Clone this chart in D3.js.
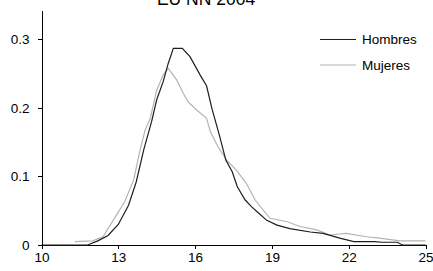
<!DOCTYPE html>
<head>
  <meta charset="utf-8">
  <style>
    body { margin: 0; background: #fff; }
    .axis path, .axis line { stroke: #000; shape-rendering: crispEdges; }
    .axis text { font-family: "Liberation Sans", Arial, sans-serif; font-size: 13.5px; fill: #000; }
  </style>
  <script src="https://cdn.jsdelivr.net/npm/d3@7"></script>
</head>
<body>
<script>
  // values
  var hombresX = [10, 11.8, 12.2, 12.6, 13.0, 13.4, 13.7, 14.0, 14.3, 14.5, 14.75, 14.95, 15.15, 15.5, 15.8,
                  16.2, 16.45, 16.65, 16.95, 17.2, 17.45, 17.65, 17.95, 18.2, 18.5, 18.8, 19.2, 19.7, 20.5,
                  21.0, 21.65, 22.2, 23.0, 23.3, 23.9, 24.1, 25];
  var hombresY = [0, 0, 0.006, 0.014, 0.03, 0.058, 0.092, 0.14, 0.18, 0.212, 0.238, 0.265, 0.287, 0.287, 0.275,
                  0.248, 0.232, 0.2, 0.16, 0.124, 0.107, 0.085, 0.066, 0.056, 0.046, 0.036, 0.029, 0.024, 0.019,
                  0.017, 0.01, 0.005, 0.005, 0.004, 0.004, 0, 0];
  var mujeresX = [11.3, 12.0, 12.4, 12.8, 13.0, 13.25, 13.6, 13.85, 14.05, 14.25, 14.5, 14.75, 14.95, 15.28,
                  15.54, 15.73, 16.06, 16.45, 16.6, 16.9, 17.23, 17.62, 18.0, 18.34, 18.66, 18.93, 19.6, 20.1,
                  20.75, 21.27, 21.9, 22.7, 23.2, 24.0, 25];
  var mujeresY = [0.005, 0.006, 0.012, 0.036, 0.048, 0.063, 0.095, 0.139, 0.168, 0.185, 0.226, 0.248, 0.258, 0.241,
                  0.221, 0.209, 0.197, 0.185, 0.165, 0.143, 0.124, 0.109, 0.09, 0.066, 0.051, 0.039, 0.034, 0.027,
                  0.022, 0.0146, 0.017, 0.012, 0.01, 0.006, 0.006];
  var xTicks = [10, 13, 16, 19, 22, 25];
  var yTicks = [0, 0.1, 0.2, 0.3];
  var seriesNames = ["Hombres", "Mujeres"];
  var colors = ["#1e1e1e", "#b4b4b4"];

  var w = 433, h = 271;
  var svg = d3.select("body").append("svg").attr("width", w).attr("height", h);

  var x = d3.scaleLinear().domain([10, 25]).range([41.5, 425.5]);
  var y = d3.scaleLinear().domain([0, 0.343]).range([245, 10]);

  svg.append("g").attr("class", "axis")
     .attr("transform", "translate(0,245)")
     .call(d3.axisBottom(x).tickValues(xTicks).tickSize(4).tickSizeOuter(0).tickPadding(3).tickFormat(d3.format("d")));

  svg.append("g").attr("class", "axis")
     .attr("transform", "translate(41.5,0)")
     .call(d3.axisLeft(y).tickValues(yTicks).tickSize(4).tickSizeOuter(0).tickPadding(8)
       .tickFormat(function(d) { return d === 0 ? "0" : d3.format(".1f")(d); }));

  var line = d3.line()
     .x(function(d) { return x(d[0]); })
     .y(function(d) { return y(d[1]); });

  var series = [d3.zip(hombresX, hombresY), d3.zip(mujeresX, mujeresY)];

  svg.selectAll("path.serie")
     .data([series[1], series[0]])
     .enter().append("path")
     .attr("class", "serie")
     .attr("d", line)
     .attr("fill", "none")
     .attr("stroke", function(d, i) { return colors[1 - i]; })
     .attr("stroke-width", 1.2);

  // title (cut at the top edge, as in the picture)
  svg.append("text")
     .attr("x", 206).attr("y", 5)
     .attr("text-anchor", "middle")
     .attr("font-family", "Liberation Sans, Arial, sans-serif")
     .attr("font-size", "17.5px")
     .text("EU NN 2004");

  // legend
  var legend = svg.selectAll("g.leg")
     .data(seriesNames)
     .enter().append("g")
     .attr("class", "leg")
     .attr("transform", function(d, i) { return "translate(320," + (39.5 + i * 25.5) + ")"; });

  legend.append("line")
     .attr("x1", 0).attr("x2", 36)
     .attr("stroke", function(d, i) { return colors[i]; })
     .attr("stroke-width", 1.2);

  legend.append("text")
     .attr("x", 42).attr("y", 4.5)
     .attr("font-family", "Liberation Sans, Arial, sans-serif")
     .attr("font-size", "13.5px")
     .text(function(d) { return d; });
</script>
</body>
